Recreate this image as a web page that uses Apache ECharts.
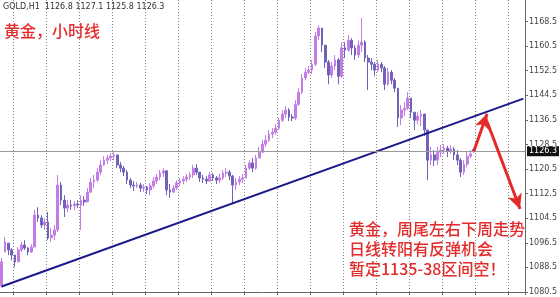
<!DOCTYPE html>
<html><head><meta charset="utf-8">
<script src="https://cdn.jsdelivr.net/npm/echarts@6/dist/echarts.min.js"></script>
<style>html,body{margin:0;padding:0;background:#fff}#c{width:560px;height:297px}</style>
</head><body><div id="c"></div>
<script>
// ---- data (GOLD H1) ----
const opens=[1082.5,1093.5,1096.4,1094.2,1092.5,1090.3,1094.2,1095.8,1094.8,1093.5,
1095.1,1105.5,1104.6,1102.3,1103.3,1098.1,1099.0,1100.7,1115.3,1110.4,
1107.8,1108.8,1108.5,1109.1,1108.8,1110.4,1109.8,1113.0,1116.3,1116.9,
1119.5,1121.8,1123.4,1124.1,1124.7,1125.1,1121.8,1120.8,1119.5,1116.9,
1115.3,1115.0,1115.3,1114.3,1114.6,1113.7,1115.0,1116.6,1117.9,1119.2,
1119.9,1113.7,1113.0,1114.3,1116.0,1116.6,1117.2,1117.9,1118.6,1120.8,
1119.5,1117.6,1117.2,1116.6,1118.6,1117.6,1116.9,1117.6,1119.2,1119.5,
1118.2,1115.3,1116.3,1117.2,1117.6,1120.8,1122.5,1120.8,1124.1,1126.0,
1128.6,1129.9,1131.9,1132.5,1133.8,1136.4,1138.4,1139.7,1137.4,1137.1,
1141.6,1145.5,1150.1,1152.0,1152.7,1154.6,1163.8,1166.4,1160.8,1155.3,
1151.1,1154.0,1156.0,1150.7,1159.9,1159.2,1162.4,1159.9,1157.6,1160.8,
1161.8,1156.6,1155.3,1154.6,1152.7,1154.6,1153.4,1148.1,1152.0,1149.4,
1146.8,1137.1,1139.7,1140.3,1143.6,1139.0,1136.4,1137.7,1138.4,1133.2,
1123.4,1125.1,1123.4,1126.0,1126.7,1127.3,1126.4,1127.0,1125.1,1123.4,
1119.5,1122.1,1124.7,1126.8];
const closes=[1090.3,1096.8,1094.2,1092.5,1090.3,1094.2,1095.8,1094.8,1093.5,1095.1,
1105.5,1104.6,1102.3,1103.3,1098.1,1099.0,1100.7,1115.3,1110.4,1107.8,
1108.8,1108.5,1109.1,1108.8,1110.4,1109.8,1113.0,1116.3,1116.9,1119.5,
1121.8,1123.4,1124.1,1124.7,1125.1,1121.8,1120.8,1119.5,1116.9,1115.3,
1115.0,1115.3,1114.3,1114.6,1113.7,1115.0,1116.6,1117.9,1119.2,1119.9,
1113.7,1113.0,1114.3,1116.0,1116.6,1117.2,1117.9,1118.6,1120.8,1119.5,
1117.6,1117.2,1116.6,1118.6,1117.6,1116.9,1117.6,1119.2,1119.5,1118.2,
1115.3,1116.3,1117.2,1117.6,1120.8,1122.5,1120.8,1124.1,1126.0,1128.6,
1129.9,1131.9,1132.5,1133.8,1136.4,1138.4,1139.7,1137.4,1137.1,1141.6,
1145.5,1150.1,1152.0,1152.7,1154.6,1163.8,1166.4,1160.8,1155.3,1151.1,
1154.0,1156.0,1150.7,1159.9,1159.2,1162.4,1159.9,1157.6,1160.8,1161.8,
1156.6,1155.3,1154.6,1152.7,1154.6,1153.4,1148.1,1152.0,1149.4,1146.8,
1137.1,1139.7,1140.3,1143.6,1139.0,1136.4,1137.7,1138.4,1133.2,1123.4,
1125.1,1123.4,1126.0,1126.7,1127.3,1126.4,1127.0,1125.1,1123.4,1119.5,
1122.1,1124.7,1125.4,1126.3];
const lows=[1081.8,1093.5,1092.5,1090.9,1088.6,1090.3,1093.5,1094.2,1092.5,1093.2,
1095.1,1103.3,1101.3,1100.7,1097.4,1096.8,1097.4,1100.0,1108.8,1104.9,
1106.5,1107.2,1107.2,1107.8,1100.7,1108.5,1109.8,1112.7,1114.3,1116.3,
1118.6,1121.5,1122.1,1123.1,1123.4,1120.8,1119.5,1118.2,1115.6,1114.3,
1113.3,1114.3,1113.0,1113.0,1112.4,1112.0,1114.3,1115.6,1116.9,1117.9,
1112.0,1111.1,1112.7,1113.7,1114.9,1115.6,1116.3,1116.9,1117.6,1118.6,
1116.3,1116.0,1115.6,1116.3,1116.6,1115.6,1115.9,1116.9,1117.9,1116.9,
1109.4,1113.7,1115.3,1115.9,1117.6,1120.2,1119.5,1120.2,1124.1,1125.7,
1127.7,1129.3,1130.6,1131.6,1133.2,1135.8,1137.1,1136.1,1136.1,1136.4,
1141.0,1144.9,1149.4,1151.4,1151.4,1154.0,1162.4,1158.6,1153.4,1148.1,
1150.1,1152.7,1148.1,1150.1,1156.6,1158.6,1157.6,1156.0,1156.6,1158.6,
1155.3,1146.2,1152.7,1150.7,1152.0,1152.0,1146.2,1147.5,1148.1,1145.5,
1134.2,1134.8,1137.7,1139.7,1137.1,1133.2,1135.1,1134.5,1131.2,1116.9,
1121.8,1121.5,1121.8,1124.4,1125.4,1124.4,1125.4,1123.4,1121.8,1117.9,
1118.6,1121.1,1124.1,1125.8];
const highs=[1091.6,1098.4,1096.4,1094.8,1092.5,1095.1,1096.8,1097.4,1095.1,1096.1,
1107.2,1108.1,1105.5,1104.6,1106.5,1101.3,1102.3,1118.6,1116.3,1112.0,
1110.4,1110.4,1110.1,1110.4,1112.0,1111.7,1114.3,1117.6,1118.6,1120.8,
1123.4,1124.7,1125.1,1125.7,1126.4,1125.1,1122.8,1121.5,1120.2,1117.6,
1116.6,1116.3,1116.0,1115.6,1115.0,1116.0,1117.9,1118.9,1120.2,1120.8,
1120.2,1115.6,1115.3,1116.9,1117.6,1118.2,1118.9,1119.5,1121.8,1122.1,
1119.5,1118.6,1118.2,1119.5,1119.2,1118.2,1118.9,1120.2,1120.8,1120.2,
1118.6,1117.6,1118.2,1118.9,1121.8,1123.4,1124.1,1125.1,1127.7,1130.0,
1131.6,1133.2,1133.8,1135.1,1137.1,1139.7,1141.0,1140.3,1138.4,1142.9,
1146.8,1151.4,1153.4,1154.0,1156.0,1165.1,1167.3,1165.7,1160.8,1156.0,
1155.3,1157.6,1156.6,1161.8,1161.8,1164.1,1163.1,1160.8,1162.4,1169.6,
1162.4,1157.6,1156.6,1155.3,1155.9,1155.3,1154.0,1153.4,1152.7,1150.1,
1146.8,1141.3,1142.3,1145.5,1143.6,1139.0,1139.0,1139.7,1138.4,1133.2,
1127.7,1126.7,1127.7,1128.3,1128.6,1128.0,1128.3,1127.7,1126.7,1124.1,
1123.4,1126.0,1126.7,1127.1];
const futureSlots = 15;               // empty hours to the right of the last bar
const lastPrice = 1126.3;
const trendStart = [0, 1082.3];       // [bar index, price]
const trendEnd = [158, 1143.4];
const arrowUp = [[143, 1126.3], [147, 1138.5]];
const arrowDown = [[147, 1136.0], [157, 1107.5]];
const headerText = 'GOLD,H1  1126.8 1127.1 1125.8 1126.3';
const titleText = '黄金，小时线';
const noteLines = ['黄金，周尾左右下周走势', '日线转阳有反弹机会', '暂定1135-38区间空！'];

const nBars = closes.length;
const categories = Array.from({length: nBars + futureSlots}, (_, i) => 'H' + i);
const ohlc = categories.map((_, i) => i < nBars ? [opens[i], closes[i], lows[i], highs[i]] : '-');

const chart = echarts.init(document.getElementById('c'), null, {renderer: 'canvas'});
const red = '#e42b2b';
chart.setOption({
  animation: false,
  backgroundColor: '#fff',
  grid: {left: 0, right: 27, top: 0, bottom: 5},
  xAxis: {
    type: 'category', data: categories, boundaryGap: true,
    axisLine: {show: true, lineStyle: {color: '#666', width: 1}},
    axisTick: {show: true, length: 3, interval: (i) => i % 10 === 4, lineStyle: {color: '#666'}},
    axisLabel: {show: false},
    splitLine: {show: true, interval: (i) => i % 10 === 4, lineStyle: {color: '#8a8a8a', type: [1, 2], width: 1}}
  },
  yAxis: {
    type: 'value', position: 'right', min: 1080.5, max: 1175.5, interval: 8, scale: true,
    axisLine: {show: true, lineStyle: {color: '#666', width: 1}},
    axisTick: {show: true, length: 3, lineStyle: {color: '#666'}},
    axisLabel: {fontSize: 8, color: '#444', margin: 4, fontFamily: 'DejaVu Sans', showMaxLabel: false,
      formatter: (v) => v.toFixed(1)},
    splitLine: {show: false}
  },
  graphic: [
    {type: 'text', left: 3, top: 3, style: {text: headerText, font: '8px "DejaVu Sans"', fill: '#333'}},
    {type: 'text', left: 4, top: 23, style: {text: titleText, font: '500 16px "Noto Sans CJK SC"', fill: red}},
    {type: 'text', left: 349, top: 219, style: {text: noteLines.join('\n'), font: '500 16px "Noto Sans CJK SC"', fill: red, lineHeight: 20}}
  ],
  series: [
    {
      type: 'candlestick', data: ohlc, barWidth: 2.2,
      itemStyle: {color: '#c47de6', color0: '#6f62b8', borderColor: '#c47de6', borderColor0: '#6f62b8', borderWidth: 1},
      markLine: {
        silent: true, symbol: ['none', 'none'],
        data: [{yAxis: lastPrice, lineStyle: {color: '#9a9a9a', width: 1, type: 'solid'},
          label: {show: true, position: 'end', distance: 2, formatter: '1126.3', color: '#fff', backgroundColor: '#111',
            fontSize: 8, fontFamily: 'DejaVu Sans', padding: [1, 2, 1, 2]}}]
      },
      z: 2
    },
    {
      type: 'line', data: [trendStart, trendEnd], symbol: 'none',
      lineStyle: {color: '#1c1a8a', width: 2}, z: 3, silent: true
    },
    {
      type: 'line', data: [], silent: true,
      markLine: {
        silent: true, symbol: ['none', 'arrow'], symbolSize: [11, 15],
        lineStyle: {color: red, width: 3, type: 'solid'}, label: {show: false},
        data: [
          [{coord: arrowUp[0]}, {coord: arrowUp[1]}],
          [{coord: arrowDown[0]}, {coord: arrowDown[1]}]
        ]
      },
      z: 5
    }
  ]
});
</script></body></html>
